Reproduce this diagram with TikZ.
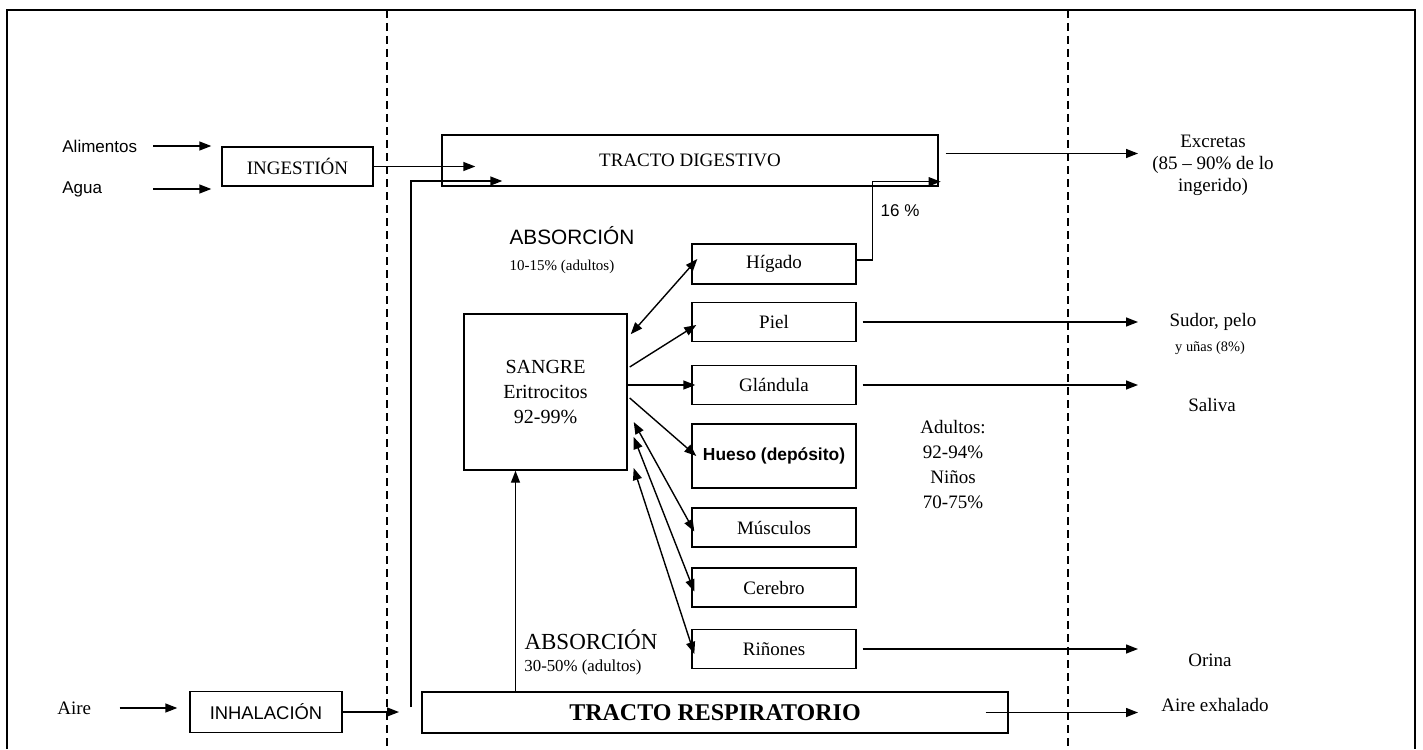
\documentclass[tikz,border=0pt]{standalone}
\usepackage{fontspec}
\setmainfont{Liberation Serif}
\setsansfont{Liberation Sans}
\usetikzlibrary{arrows.meta}

\begin{document}
\begin{tikzpicture}[
    x=0.5pt, y=-0.5pt,
    % Define block style
    block/.style={rectangle, draw, line width=0.7pt, inner sep=0pt, minimum width=82pt, minimum height=19.5pt, font=\fontsize{9.5}{11}\selectfont},
    % Define arrow styles
    arrow/.style={-{Triangle[length=6pt,width=4.5pt]}, line width=0.7pt},
    twoway/.style={{Triangle[length=6pt,width=4.5pt]}-{Triangle[length=6pt,width=4.5pt]}, line width=0.7pt},
    % Text styles
    txt/.style={inner sep=0pt, align=center, font=\fontsize{9.5}{12.5}\selectfont},
    smalltxt/.style={inner sep=0pt, font=\fontsize{7.5}{9}\selectfont},
    sanstxt/.style={inner sep=0pt, font=\sffamily\fontsize{8.5}{10}\selectfont}
]
    \useasboundingbox (0,0) rectangle (1423,749);

    % Frame and dashed columns
    \draw[line width=0.9pt] (7,749) -- (7,10) -- (1415,10) -- (1415,749);
    \draw[dashed, line width=0.6pt, dash pattern=on 4pt off 2.5pt] (387,10) -- (387,749);
    \draw[dashed, line width=0.6pt, dash pattern=on 4pt off 2.5pt] (1068,10) -- (1068,749);

    % Inputs
    \node[sanstxt, anchor=west] (alimentos) at (62,146) {Alimentos};
    \node[sanstxt, anchor=west] (agua) at (62,189) {Agua};
    \node[txt, anchor=west] (aire) at (57,708) {Aire};

    % Nodes (blocks)
    \node[block, minimum width=75.5pt] (ingestion) at (297.5,166.5) {INGESTIÓN};
    \node[block, minimum width=248pt, minimum height=25.5pt] (digestive) at (690,160.5) {TRACTO DIGESTIVO};
    \node[block, minimum width=76pt, minimum height=20.5pt, font=\sffamily\fontsize{9.2}{11}\selectfont] (inhalation) at (266,712) {INHALACIÓN};
    \node[block, minimum width=293pt, minimum height=20.5pt, font=\bfseries\fontsize{12}{14}\selectfont] (respiratory) at (715,712.5) {TRACTO RESPIRATORIO};
    \node[block, minimum width=81.5pt, minimum height=78pt, align=center, font=\fontsize{10}{12.5}\selectfont] (blood) at (545.5,392) {SANGRE\\Eritrocitos\\92-99\%};
    \node[block, minimum height=20pt] (liver) at (774,264) {Hígado};
    \node[block] (skin) at (774,322) {Piel};
    \node[block] (gland) at (774,385) {Glándula};
    \node[block, minimum height=32pt, font=\sffamily\bfseries\fontsize{8.7}{10}\selectfont] (bone) at (774,456) {Hueso (depósito)};
    \node[block] (muscle) at (774,527.5) {Músculos};
    \node[block] (brain) at (774,587.5) {Cerebro};
    \node[block] (kidney) at (774,649) {Riñones};

    % Absorption labels
    \node[sanstxt, font=\sffamily\fontsize{10.4}{12}\selectfont] (abs1) at (572,236) {ABSORCIÓN};
    \node[smalltxt] (abs1pct) at (562,267) {10-15\% (adultos)};
    \node[txt, font=\fontsize{11.5}{13}\selectfont] (abs2) at (591,640) {ABSORCIÓN};
    \node[smalltxt, font=\fontsize{8.4}{10}\selectfont] (abs2pct) at (583,667) {30-50\% (adultos)};
    \node[sanstxt] (pct16) at (900,211) {16 \%};
    \node[txt] (adults) at (953,465) {Adultos:\\92-94\%\\Niños\\70-75\%};

    % Outputs
    \node[txt, font=\fontsize{9.5}{11}\selectfont] (excretas) at (1213,165) {Excretas\\(85 -- 90\% de lo\\ingerido)};
    \node[txt] (sudor) at (1213,322) {Sudor, pelo};
    \node[smalltxt, font=\fontsize{7.2}{8}\selectfont] (unas) at (1210,348) {y uñas (8\%)};
    \node[txt] (saliva) at (1212,405) {Saliva};
    \node[txt] (orina) at (1210,660) {Orina};
    \node[txt] (exhalado) at (1215,705) {Aire exhalado};

    \coordinate (incol) at (153,0);
    \coordinate (outcol) at (1138,0);
    \coordinate (airup) at (411,707);
    \coordinate (inhalein) at (399,712);

    % Arrows in
    \draw[arrow, shorten >=5pt] (alimentos -| incol) -- (alimentos -| ingestion.west);
    \draw[arrow, shorten >=5pt] (agua -| incol) -- (agua -| ingestion.west);
    \draw[arrow, shorten <=14pt, shorten >=6pt] (aire.east) -- (aire.east -| inhalation.west);
    \draw[arrow] (ingestion.east) -- ([xshift=17pt]digestive.west |- ingestion.east);
    \draw[arrow] (inhalation.east) -- (inhalein);
    \draw[arrow] (airup) |- ([xshift=30.5pt,yshift=-10.25pt]digestive.west);

    % Blood and organs
    \draw[twoway] ([xshift=1.5pt,yshift=-10.5pt]blood.north east) -- ([xshift=3pt,yshift=2.5pt]liver.west);
    \draw[arrow] ([xshift=1pt,yshift=12.5pt]blood.east) -- ([xshift=2.5pt,yshift=-1.5pt]skin.west);
    \draw[arrow] (blood.east |- gland.west) -- ([xshift=2pt]gland.west);
    \draw[arrow] ([xshift=1pt,yshift=-3pt]blood.east) -- ([xshift=2.5pt]bone.west);
    \draw[twoway] ([xshift=3pt,yshift=-15pt]blood.east) -- ([xshift=1.5pt,yshift=-2pt]muscle.west);
    \draw[twoway] ([xshift=3pt,yshift=-22.5pt]blood.east) -- ([xshift=1.5pt,yshift=-2pt]brain.west);
    \draw[twoway] ([xshift=3pt,yshift=-38pt]blood.east) -- ([xshift=1.5pt,yshift=-2.5pt]kidney.west);
    \draw[arrow] ([xshift=-15pt]blood.south |- respiratory.north) -- ([xshift=-15pt]blood.south);
    \draw[arrow] ([yshift=2pt]liver.east) -- ++(8pt,0) |- ([xshift=1pt,yshift=2.5pt]digestive.south east);

    % Arrows out
    \draw[arrow] ([xshift=3.5pt,yshift=3.5pt]digestive.east) -- ([yshift=3.5pt]digestive.east -| outcol);
    \draw[arrow] ([xshift=3pt]skin.east) -- (skin.east -| outcol);
    \draw[arrow] ([xshift=3pt]gland.east) -- (gland.east -| outcol);
    \draw[arrow] ([xshift=3pt]kidney.east) -- (kidney.east -| outcol);
    \draw[arrow] ([xshift=-11.5pt]respiratory.east) -- (respiratory.east -| outcol);

\end{tikzpicture}
\end{document}
